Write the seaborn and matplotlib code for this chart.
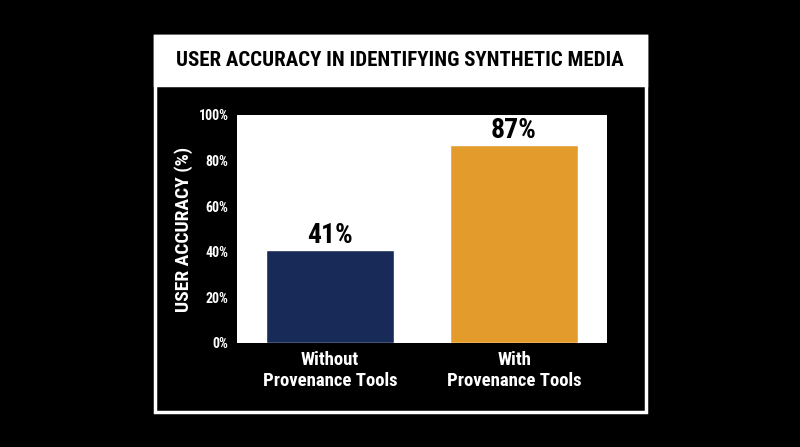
import matplotlib
matplotlib.use("Agg")
import matplotlib.pyplot as plt
from matplotlib import font_manager
from matplotlib.patches import Rectangle
import seaborn as sns
import pandas as pd

# chart data
groups = ["Without\nProvenance Tools", "With\nProvenance Tools"]
accuracy = [41, 87]
bar_colors = ["#182a57", "#e39c2c"]
y_ticks = [0, 20, 40, 60, 80, 100]

sns.set_theme(style="white")

# pick a condensed bold face if there is one
names = {f.name for f in font_manager.fontManager.ttflist}
if "Liberation Sans Narrow" in names:
    family = ["Liberation Sans Narrow", "DejaVu Sans"]
else:
    family = ["Roboto Condensed", "DejaVu Sans Condensed", "DejaVu Sans"]
plt.rcParams["font.family"] = family

df = pd.DataFrame({"group": groups, "accuracy": accuracy})

fig = plt.figure(figsize=(8, 4.47), dpi=100)
fig.patch.set_facecolor("black")

W, H = 800, 447
# outer white frame and title band
fig.patches.append(Rectangle((155 / W, 1 - 412 / H), 491 / W, 376 / H,
                             transform=fig.transFigure, fill=False,
                             edgecolor="white", linewidth=2.5))
fig.patches.append(Rectangle((155 / W, 1 - 85 / H), 491 / W, 49 / H,
                             transform=fig.transFigure, facecolor="white",
                             edgecolor="white", linewidth=2.5))
fig.text(400 / W, 1 - 61 / H, "USER ACCURACY IN IDENTIFYING SYNTHETIC MEDIA",
         ha="center", va="center", color="black", fontsize=15,
         fontweight="bold")

ax = fig.add_axes([237 / W, 1 - 343 / H, 370 / W, 228 / H])
sns.barplot(data=df, x="group", y="accuracy", hue="group",
            palette=bar_colors, width=0.70, legend=False, ax=ax,
            saturation=1)
ax.set_facecolor("white")
ax.set_xlim(-0.505, 1.505)
ax.set_ylim(0, 100)
ax.set_yticks(y_ticks)
ax.set_yticklabels([f"{t}%" for t in y_ticks])
for s in ax.spines.values():
    s.set_visible(False)
ax.tick_params(axis="y", direction="in", length=9, width=1, color="#555555",
               labelcolor="white", labelsize=10, pad=6)
ax.tick_params(axis="x", length=0, labelcolor="white", labelsize=13.5, pad=6)
for lab in ax.get_xticklabels() + ax.get_yticklabels():
    lab.set_fontweight("bold")
ax.set_xlabel("")
ax.set_ylabel("USER ACCURACY (%)", color="white", fontsize=14,
              fontweight="bold", labelpad=4)

for i, v in enumerate(accuracy):
    ax.annotate(f"{v}%", (i, v), xytext=(0, 0.5), textcoords="offset points",
                ha="center", va="bottom", fontsize=20, fontweight="bold",
                color="black")

fig.savefig("out.png", dpi=100, facecolor="black")
